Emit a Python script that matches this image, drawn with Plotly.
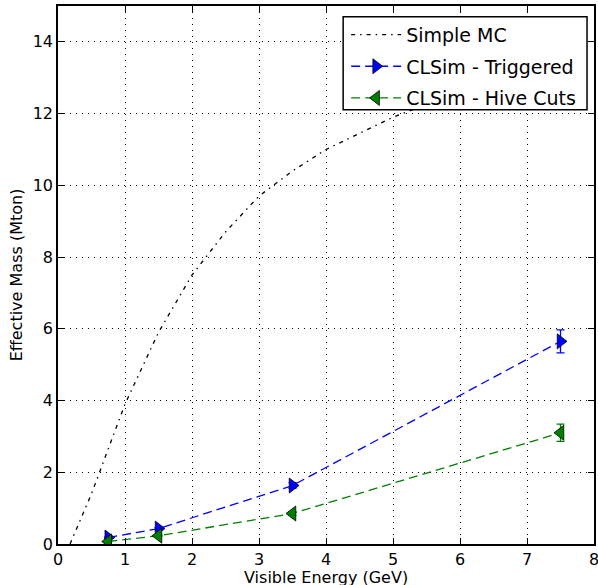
import plotly.graph_objects as go

# Simple MC curve
mc_x = [0.18, 0.5, 1.0, 1.5, 2.0, 2.5, 3.0, 3.5, 4.0, 5.0, 6.0, 7.0, 7.5]
mc_y = [0.0, 1.4, 3.9, 5.9, 7.5, 8.7, 9.7, 10.4, 11.0, 11.9, 12.6, 13.2, 13.5]

# CLSim - Triggered
trig_x = [0.75, 1.5, 3.5, 7.5]
trig_y = [0.18, 0.43, 1.63, 5.65]
trig_err = [0.02, 0.03, 0.08, 0.32]

# CLSim - Hive Cuts
hive_x = [0.75, 1.5, 3.5, 7.5]
hive_y = [0.07, 0.23, 0.85, 3.1]
hive_err = [0.01, 0.02, 0.05, 0.24]

x_ticks = [0, 1, 2, 3, 4, 5, 6, 7, 8]
y_ticks = [0, 2, 4, 6, 8, 10, 12, 14]

x_title = "Visible Energy (GeV)"
y_title = "Effective Mass (Mton)"

font = "DejaVu Sans"

fig = go.Figure()
fig.add_trace(go.Scatter(
    x=mc_x, y=mc_y, mode="lines", name="Simple MC", legendgroup="a",
    line=dict(color="black", width=1.3, dash="4px,5px,1.5px,5px"),
))
fig.add_trace(go.Scatter(
    x=trig_x, y=trig_y, mode="lines+markers", name="CLSim - Triggered", legendgroup="b",
    line=dict(color="#0000ff", width=1.3, dash="9px,5px"),
    marker=dict(symbol="triangle-right", size=13, color="#0000ff",
                line=dict(color="black", width=0.8)),
    error_y=dict(type="data", array=trig_err, visible=True, color="#0000ff",
                 thickness=1.3, width=4),
))
fig.add_trace(go.Scatter(
    x=hive_x, y=hive_y, mode="lines+markers", name="CLSim - Hive Cuts", legendgroup="c",
    line=dict(color="#008000", width=1.3, dash="9px,5px"),
    marker=dict(symbol="triangle-left", size=13, color="#008000",
                line=dict(color="black", width=0.8)),
    error_y=dict(type="data", array=hive_err, visible=True, color="#008000",
                 thickness=1.3, width=4),
))

axis_common = dict(
    showline=True, linecolor="black", linewidth=1.5, mirror="allticks",
    ticks="inside", ticklen=6, tickwidth=1, tickcolor="black",
    showgrid=True, gridcolor="black", gridwidth=1, griddash="1px,5px",
    zeroline=False, automargin=False, ticklabeloverflow="allow",
    tickfont=dict(family=font, size=16, color="black"),
)

fig.update_layout(
    width=598, height=585,
    margin=dict(l=58, r=4, t=6, b=41),
    paper_bgcolor="white", plot_bgcolor="white",
    font=dict(family=font, color="black"),
    xaxis=dict(range=[0, 8], tickvals=x_ticks, **axis_common),
    yaxis=dict(range=[0, 15], tickvals=y_ticks,
               title=dict(text=y_title, font=dict(family=font, size=16), standoff=6),
               **axis_common),
    legend=dict(
        x=0.976, y=0.982, xanchor="right", yanchor="top",
        bgcolor="rgba(0,0,0,0)", borderwidth=0,
        font=dict(family=font, size=19, color="black"),
        itemwidth=50, tracegroupgap=4,
    ),
    shapes=[dict(
        type="rect", xref="paper", yref="paper",
        x0=0.532, x1=0.987, y0=0.807, y1=0.980,
        fillcolor="white", line=dict(color="black", width=1.5), layer="above",
    )],
    annotations=[dict(
        text=x_title, xref="paper", yref="paper", x=0.5, y=0,
        xanchor="center", yanchor="top", yshift=-22, showarrow=False,
        font=dict(family=font, size=16, color="black"),
    )],
)

fig.write_html("out.html")
